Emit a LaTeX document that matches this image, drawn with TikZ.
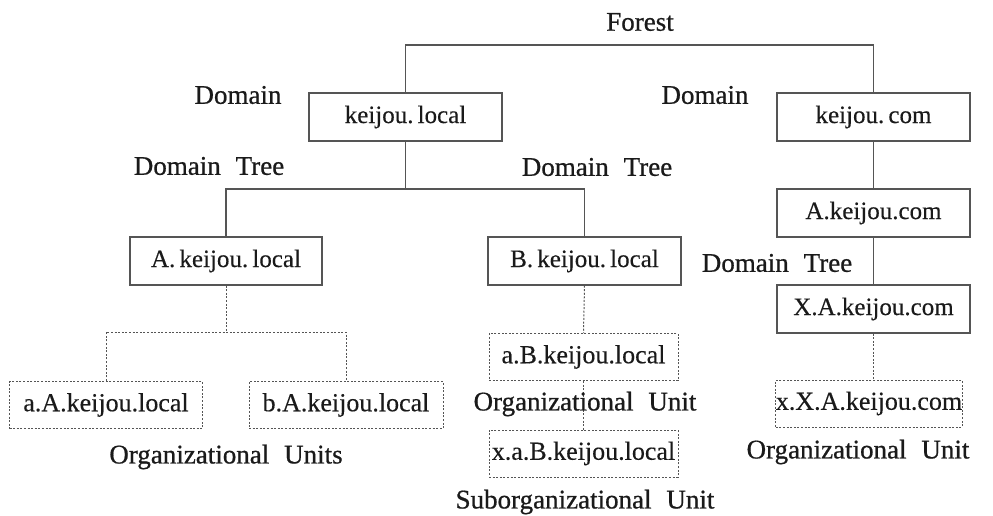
\documentclass[tikz,border=0pt]{standalone}
\usepackage{fontspec}
\setmainfont{Liberation Serif}
\newfontfamily\lblserif[FakeBold=0.7]{Liberation Serif}
\newfontfamily\boxserif[FakeBold=0.3]{Liberation Serif}
\definecolor{linegray}{HTML}{555555}
\definecolor{textdark}{HTML}{1A1A1A}
\begin{document}
\begin{tikzpicture}[x=1pt,y=-1pt,
  solidbox/.style={draw=linegray,line width=1.1pt,minimum height=48pt,inner sep=0pt,text=textdark,font=\boxserif\fontsize{25}{28}\selectfont},
  dotbox/.style={draw=linegray,line width=1pt,dash pattern=on 2pt off 1.6pt,minimum height=47pt,inner sep=0pt,text=textdark,font=\boxserif\fontsize{26}{28}\selectfont},
  lbl/.style={inner sep=0pt,text=textdark,font=\lblserif\fontsize{27}{30}\selectfont},
  conn/.style={draw=linegray,line width=1.1pt},
  dconn/.style={draw=linegray,line width=1pt,dash pattern=on 2pt off 1.6pt}]
\useasboundingbox (0,0) rectangle (993,516);
% solid boxes
\node[solidbox,minimum width=193pt] (kl) at (405.5,117) {keijou.\,local};
\node[solidbox,minimum width=193pt] (kc) at (873.5,117) {keijou.\,com};
\node[solidbox,minimum width=192pt] (akl) at (226,261) {A.\,keijou.\,local};
\node[solidbox,minimum width=193pt] (bkl) at (584.5,261) {B.\,keijou.\,local};
\node[solidbox,minimum width=193pt] (akc) at (873.5,213) {A.keijou.com};
\node[solidbox,minimum width=193pt] (xakc) at (873.5,309) {X.A.keijou.com};
% dotted boxes
\node[dotbox,minimum width=193pt] (aakl) at (106,405) {a.A.keijou.local};
\node[dotbox,minimum width=194pt] (bakl) at (346,405) {b.A.keijou.local};
\node[dotbox,minimum width=189pt] (abkl) at (583.5,357) {a.B.keijou.local};
\node[dotbox,minimum width=189pt] (xabkl) at (583.5,453.5) {x.a.B.keijou.local};
\node[dotbox,minimum width=184pt] (xxakc) at (869,403.5) {x.X.A.keijou.com};
% junction coordinates
\coordinate (fl) at (405.5,45);
\coordinate (fr) at (873.5,45);
\coordinate (dt) at (405.5,189);
\coordinate (ou) at (226,332);
% connectors
\draw[conn] (kl.north) -- (fl) -- (fr) -- (kc.north);
\draw[conn] (kl.south) -- (dt);
\draw[conn] (akl.north) |- (dt) -| (bkl.north);
\draw[conn] (kc.south) -- (akc.north);
\draw[conn] (akc.south) -- (xakc.north);
\draw[dconn] (akl.south) -- (ou);
\draw[dconn] (aakl.north) |- (ou) -| (bakl.north);
\draw[dconn] (bkl.south) -- (abkl.north);
\draw[dconn] (abkl.south) -- (xabkl.north);
\draw[dconn] (xakc.south) -- (xakc.south |- xxakc.north);
% labels
\node[lbl] (forest) at (640,22) {Forest};
\node[lbl] (dom1) at (238,95) {Domain};
\node[lbl] (dom2) at (705,95) {Domain};
\node[lbl] (dt1) at (209,166) {Domain\hspace{0.3em} Tree};
\node[lbl] (dt2) at (597,167) {Domain\hspace{0.3em} Tree};
\node[lbl] (dt3) at (777,263) {Domain\hspace{0.3em} Tree};
\node[lbl] (ous) at (226,457) {Organizational\hspace{0.3em} Units};
\node[lbl] (ou1) at (585,404) {Organizational\hspace{0.3em} Unit};
\node[lbl] (sou) at (585,502) {Suborganizational\hspace{0.3em} Unit};
\node[lbl] (ou2) at (858,452) {Organizational\hspace{0.3em} Unit};
\end{tikzpicture}
\end{document}
